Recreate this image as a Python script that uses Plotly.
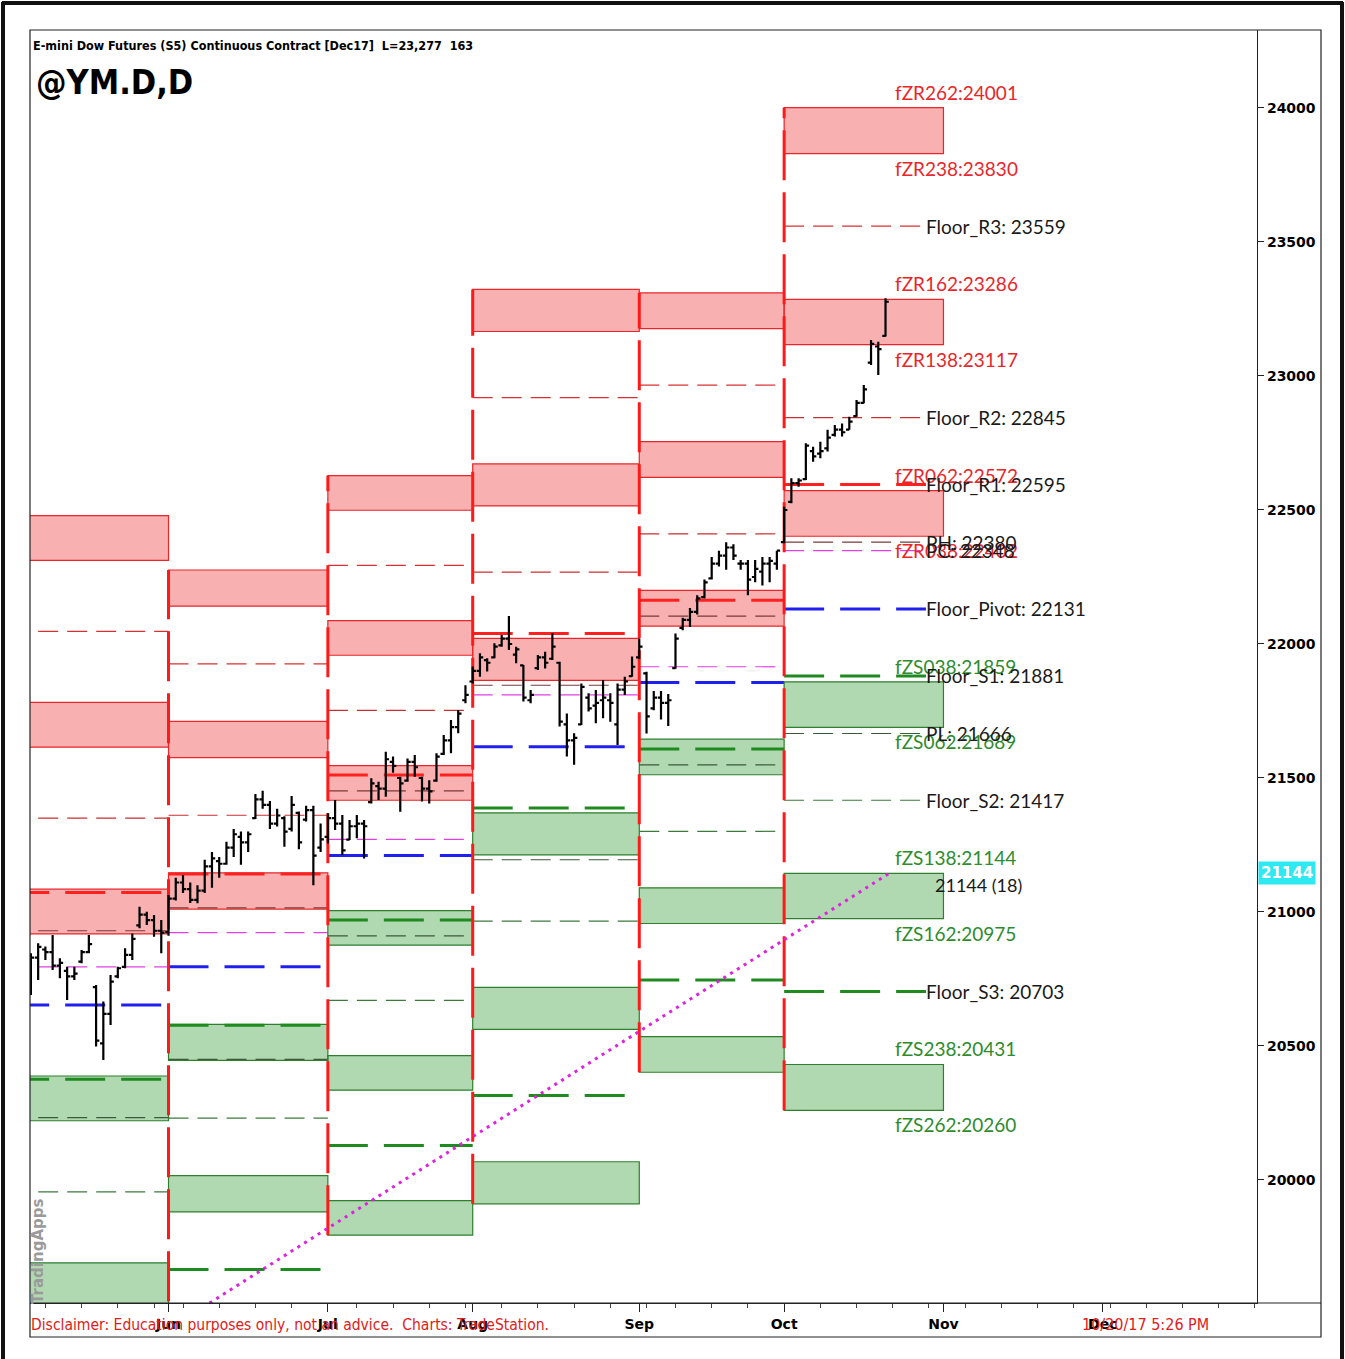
import plotly.graph_objects as go

# ---------------- daily bars (E-mini Dow, May-Oct 2017) ----------------
dates = [
    "2017-05-04", "2017-05-05", "2017-05-08", "2017-05-09", "2017-05-10", "2017-05-11", "2017-05-12",
    "2017-05-15", "2017-05-16", "2017-05-17", "2017-05-18", "2017-05-19", "2017-05-22", "2017-05-23",
    "2017-05-24", "2017-05-25", "2017-05-26", "2017-05-30", "2017-05-31",
    "2017-06-01", "2017-06-02", "2017-06-05", "2017-06-06", "2017-06-07", "2017-06-08", "2017-06-09",
    "2017-06-12", "2017-06-13", "2017-06-14", "2017-06-15", "2017-06-16", "2017-06-19", "2017-06-20",
    "2017-06-21", "2017-06-22", "2017-06-23", "2017-06-26", "2017-06-27", "2017-06-28", "2017-06-29",
    "2017-06-30",
    "2017-07-03", "2017-07-05", "2017-07-06", "2017-07-07", "2017-07-10", "2017-07-11", "2017-07-12",
    "2017-07-13", "2017-07-14", "2017-07-17", "2017-07-18", "2017-07-19", "2017-07-20", "2017-07-21",
    "2017-07-24", "2017-07-25", "2017-07-26", "2017-07-27", "2017-07-28", "2017-07-31",
    "2017-08-01", "2017-08-02", "2017-08-03", "2017-08-04", "2017-08-07", "2017-08-08", "2017-08-09",
    "2017-08-10", "2017-08-11", "2017-08-14", "2017-08-15", "2017-08-16", "2017-08-17", "2017-08-18",
    "2017-08-21", "2017-08-22", "2017-08-23", "2017-08-24", "2017-08-25", "2017-08-28", "2017-08-29",
    "2017-08-30", "2017-08-31",
    "2017-09-01", "2017-09-05", "2017-09-06", "2017-09-07", "2017-09-08", "2017-09-11", "2017-09-12",
    "2017-09-13", "2017-09-14", "2017-09-15", "2017-09-18", "2017-09-19", "2017-09-20", "2017-09-21",
    "2017-09-22", "2017-09-25", "2017-09-26", "2017-09-27", "2017-09-28", "2017-09-29",
    "2017-10-02", "2017-10-03", "2017-10-04", "2017-10-05", "2017-10-06", "2017-10-09", "2017-10-10",
    "2017-10-11", "2017-10-12", "2017-10-13", "2017-10-16", "2017-10-17", "2017-10-18", "2017-10-19",
    "2017-10-20",
]
opens = [
    20700, 20830, 20860, 20850, 20800, 20780, 20760, 20815, 20850, 20720, 20510, 20620, 20760, 20795,
    20840, 20950, 20990, 20970, 20930,
    20925, 21050, 21110, 21085, 21045, 21080, 21170, 21190, 21180, 21240, 21280, 21260, 21350, 21420,
    21400, 21330, 21350, 21310, 21370, 21345, 21380, 21240,
    21280, 21350, 21330, 21270, 21320, 21330, 21410, 21470, 21460, 21560, 21500, 21490, 21560, 21500,
    21460, 21490, 21590, 21640, 21690, 21790,
    21860, 21900, 21940, 21950, 21995, 22020, 21960, 21920, 21790, 21910, 21950, 21945, 21930, 21700,
    21640, 21700, 21800, 21770, 21790, 21790, 21700, 21830, 21880,
    21950, 21890, 21760, 21800, 21780, 21910, 22060, 22090, 22120, 22175, 22245, 22300, 22330, 22360,
    22300, 22300, 22250, 22270, 22300, 22300,
    22380, 22530, 22600, 22615, 22720, 22710, 22730, 22780, 22800, 22800, 22850, 22900, 23050, 23110,
    23150,
]
highs = [
    20846, 20883, 20871, 20914, 20827, 20796, 20796, 20858, 20914, 20728, 20666, 20765, 20796, 20865,
    20920, 21020, 21001, 20989, 20970,
    21063, 21128, 21138, 21110, 21100, 21195, 21224, 21205, 21262, 21310, 21300, 21300, 21440, 21452,
    21414, 21385, 21357, 21433, 21375, 21396, 21396, 21330,
    21368, 21418, 21362, 21343, 21362, 21343, 21499, 21486, 21598, 21580, 21505, 21573, 21586, 21505,
    21492, 21592, 21660, 21716, 21754, 21846,
    21916, 21965, 21947, 22003, 22034, 22104, 21990, 21922, 21828, 21959, 21971, 22040, 21934, 21741,
    21667, 21853, 21816, 21828, 21866, 21816, 21853, 21878, 21953,
    22020, 21896, 21825, 21825, 21813, 22039, 22098, 22134, 22182, 22241, 22325, 22348, 22380, 22372,
    22313, 22313, 22313, 22325, 22325, 22348,
    22512, 22618, 22618, 22749, 22736, 22755, 22799, 22817, 22823, 22848, 22910, 22966, 23134, 23128,
    23290,
]
lows = [
    20690, 20746, 20821, 20784, 20753, 20672, 20746, 20809, 20846, 20498, 20448, 20578, 20753, 20790,
    20821, 20939, 20951, 20908, 20846,
    20911, 21043, 21071, 21034, 21033, 21071, 21090, 21128, 21176, 21205, 21176, 21224, 21347, 21385,
    21310, 21319, 21243, 21300, 21234, 21338, 21100, 21224,
    21256, 21306, 21213, 21269, 21275, 21200, 21405, 21418, 21430, 21520, 21374, 21486, 21505, 21412,
    21405, 21486, 21586, 21592, 21667, 21779,
    21853, 21878, 21897, 21947, 21990, 21978, 21928, 21785, 21779, 21903, 21909, 21940, 21692, 21580,
    21549, 21698, 21748, 21704, 21723, 21710, 21623, 21810, 21878,
    21944, 21666, 21753, 21718, 21694, 21908, 22051, 22063, 22110, 22170, 22241, 22289, 22277, 22313,
    22277, 22182, 22230, 22218, 22230, 22277,
    22376, 22525, 22587, 22612, 22680, 22693, 22718, 22774, 22774, 22799, 22848, 22898, 23041, 23004,
    23147,
]
closes = [
    20830, 20870, 20850, 20800, 20810, 20760, 20770, 20850, 20880, 20520, 20620, 20740, 20790, 20840,
    20900, 20990, 20970, 20930, 20923,
    21050, 21110, 21085, 21045, 21080, 21170, 21200, 21180, 21240, 21290, 21260, 21290, 21420, 21400,
    21330, 21360, 21300, 21400, 21260, 21380, 21210, 21271,
    21350, 21330, 21230, 21320, 21330, 21320, 21480, 21460, 21570, 21545, 21480, 21560, 21540, 21460,
    21450, 21580, 21640, 21690, 21740, 21810,
    21900, 21950, 21930, 21990, 22020, 22000, 21980, 21800, 21810, 21950, 21930, 21990, 21710, 21640,
    21650, 21840, 21760, 21780, 21800, 21780, 21830, 21860, 21915,
    21990, 21730, 21800, 21780, 21790, 22020, 22090, 22120, 22170, 22230, 22300, 22330, 22360, 22330,
    22300, 22240, 22280, 22300, 22310, 22348,
    22500, 22600, 22610, 22740, 22700, 22720, 22770, 22800, 22790, 22830, 22900, 22950, 23120, 23100,
    23277,
]

# ---------------- monthly pivot / zone levels (one value per month segment) ----------------
seg_start = ["2017-05-01", "2017-06-01", "2017-07-03", "2017-08-01", "2017-09-01", "2017-10-02"]
seg_end = ["2017-06-01", "2017-07-03", "2017-08-01", "2017-09-01", "2017-10-02", "2017-11-01"]

ZR262 = [22479, 22276, 22628, 23323, 23310, 24001]
ZR238 = [22312, 22141, 22499, 23166, 23177, 23830]
R3 = [22047, 21926, 22293, 22919, 22966, 23559]
ZR162 = [21782, 21711, 22087, 22672, 22755, 23286]
ZR138 = [21615, 21576, 21958, 22515, 22622, 23117]
R2 = [21350, 21361, 21752, 22268, 22411, 22845]
R1 = [21073, 21142, 21511, 22039, 22163, 22595]
ZR062 = [21085, 21146, 21546, 22021, 22200, 22572]
ZR038 = [20918, 21011, 21417, 21864, 22067, 22402]
PH = [20930, 21015, 21452, 21846, 22104, 22380]
PC = [20795, 20923, 21271, 21810, 21915, 22348]
PIV = [20653, 20796, 21211, 21617, 21856, 22131]
S1 = [20376, 20577, 20970, 21388, 21608, 21881]
ZS038 = [20388, 20581, 21005, 21370, 21645, 21859]
ZS062 = [20221, 20446, 20876, 21213, 21512, 21689]
PL = [20233, 20450, 20911, 21195, 21549, 21666]
S2 = [19956, 20231, 20670, 20966, 21301, 21417]
ZS138 = [19691, 20016, 20464, 20719, 21090, 21144]
ZS162 = [19524, 19881, 20335, 20562, 20957, 20975]
S3 = [19259, 19666, 20129, 20315, 20746, 20703]
ZS238 = [18994, 19451, 19923, 20068, 20535, 20431]
ZS262 = [18827, 19316, 19794, 19911, 20402, 20260]

# trendline anchors
trend_x = ["2017-06-08 16:00", "2017-10-20 12:00"]
trend_y = [19541, 21144]
trend_bars = 18

# axis ticks
month_ticks = ["2017-06-01", "2017-07-03", "2017-08-01", "2017-09-01", "2017-10-02", "2017-11-01", "2017-12-01"]
month_labels = ["Jun", "Jul", "Aug", "Sep", "Oct", "Nov", "Dec"]
price_ticks = [20000, 20500, 21000, 21500, 22000, 22500, 23000, 23500, 24000]

# ---------------- styles ----------------
RED_FILL = "rgba(240,80,80,0.45)"
RED_EDGE = "#e8262b"
GRN_FILL = "rgba(60,160,60,0.40)"
GRN_EDGE = "#2f7f2f"
LONG = "40px,16px"
SHORT = "20px,9px"
LBL_FONT = "Lato, Open Sans, sans-serif"
NARROW = "DejaVu Sans Condensed, Liberation Sans Narrow, Arial Narrow, sans-serif"

shapes = []


def rect(x0, x1, y0, y1, fill, edge):
    shapes.append(dict(type="rect", xref="x", yref="y", x0=x0, x1=x1, y0=y0, y1=y1,
                       fillcolor=fill, line=dict(color=edge, width=1.2), layer="below"))


def hline(x0, x1, y, color, width, dash):
    shapes.append(dict(type="line", xref="x", yref="y", x0=x0, x1=x1, y0=y, y1=y,
                       line=dict(color=color, width=width, dash=dash), layer="below"))


LINE_END_LAST = "2017-10-27 14:00"

for i in range(len(seg_start)):
    xs = seg_start[i]
    xe = seg_end[i]
    le = LINE_END_LAST if i == len(seg_start) - 1 else xe
    # zones
    rect(xs, xe, ZR238[i], ZR262[i], RED_FILL, RED_EDGE)
    rect(xs, xe, ZR138[i], ZR162[i], RED_FILL, RED_EDGE)
    rect(xs, xe, ZR038[i], ZR062[i], RED_FILL, RED_EDGE)
    rect(xs, xe, ZS062[i], ZS038[i], GRN_FILL, GRN_EDGE)
    rect(xs, xe, ZS162[i], ZS138[i], GRN_FILL, GRN_EDGE)
    rect(xs, xe, ZS262[i], ZS238[i], GRN_FILL, GRN_EDGE)
    # thin floor lines
    hline(xs, le, R3[i], "#d83030", 1.2, SHORT)
    hline(xs, le, R2[i], "#c83030", 1.2, SHORT)
    hline(xs, le, PH[i], "#7a3a3a", 1.2, SHORT)
    hline(xs, le, PC[i], "#e040e0", 1.2, SHORT)
    hline(xs, le, PL[i], "#3a5a3a", 1.2, SHORT)
    hline(xs, le, S2[i], "#3c7a3c", 1.2, SHORT)
    # thick floor lines
    hline(xs, le, R1[i], "#ff2020", 3, LONG)
    hline(xs, le, PIV[i], "#2020ee", 3, LONG)
    hline(xs, le, S1[i], "#1f8a1f", 3, LONG)
    hline(xs, le, S3[i], "#1f8a1f", 3, LONG)
    # vertical month separator
    if i > 0:
        shapes.append(dict(type="line", xref="x", yref="y", x0=xs, x1=xs, y0=ZS262[i], y1=ZR262[i],
                           line=dict(color="#ff1a1a", width=3, dash="50px,12px"), layer="below"))

# frame shapes (paper coordinates)
PW, PH_PX = 1227.0, 1273.0
fx = lambda px: (px - 30) / PW
fy = lambda py: 1 - (py - 30) / PH_PX
shapes.append(dict(type="rect", xref="paper", yref="paper", x0=fx(30), x1=fx(1321), y0=fy(1337), y1=fy(30),
                   line=dict(color="#222", width=1.2), fillcolor="rgba(0,0,0,0)"))
shapes.append(dict(type="line", xref="paper", yref="paper", x0=fx(30), x1=fx(1321), y0=0, y1=0,
                   line=dict(color="#222", width=1.2)))
for (a, b, c, d) in [(3, 2, 3, 1359), (2, 3, 1343, 3), (1342, 2, 1342, 1359)]:
    shapes.append(dict(type="line", xref="paper", yref="paper", x0=fx(a), y0=fy(b), x1=fx(c), y1=fy(d),
                       line=dict(color="#111", width=4)))

fig = go.Figure()

fig.add_trace(go.Ohlc(
    x=dates, open=opens, high=highs, low=lows, close=closes,
    increasing=dict(line=dict(color="black", width=2.2)),
    decreasing=dict(line=dict(color="black", width=2.2)),
    tickwidth=0.45, hoverinfo="skip", showlegend=False,
))

fig.add_trace(go.Scatter(
    x=trend_x, y=trend_y, mode="lines",
    line=dict(color="#e020e0", width=3, dash="3px,5px"),
    hoverinfo="skip", showlegend=False,
))

annotations = []
ZONE_X = "2017-10-23 12:00"
FLOOR_X = LINE_END_LAST
last = len(seg_start) - 1

zone_specs = [
    ("fZR262", ZR262, "above", "#e8262b"), ("fZR238", ZR238, "below", "#e8262b"),
    ("fZR162", ZR162, "above", "#e8262b"), ("fZR138", ZR138, "below", "#e8262b"),
    ("fZR062", ZR062, "above", "#e8262b"), ("fZR038", ZR038, "below", "#e8262b"),
    ("fZS038", ZS038, "above", "#2e8b2e"), ("fZS062", ZS062, "below", "#2e8b2e"),
    ("fZS138", ZS138, "above", "#2e8b2e"), ("fZS162", ZS162, "below", "#2e8b2e"),
    ("fZS238", ZS238, "above", "#2e8b2e"), ("fZS262", ZS262, "below", "#2e8b2e"),
]
for name, arr, pos, col in zone_specs:
    annotations.append(dict(
        x=ZONE_X, y=arr[last], xref="x", yref="y", text=f"{name}:{arr[last]}", showarrow=False,
        xanchor="left", yanchor="bottom" if pos == "above" else "top",
        yshift=2 if pos == "above" else -1, xshift=-3,
        font=dict(family=LBL_FONT, size=19, color=col)))

floor_specs = [
    ("Floor_R3", R3), ("Floor_R2", R2), ("Floor_R1", R1), ("PH", PH), ("PC", PC),
    ("Floor_Pivot", PIV), ("Floor_S1", S1), ("PL", PL), ("Floor_S2", S2), ("Floor_S3", S3),
]
for name, arr in floor_specs:
    annotations.append(dict(
        x=FLOOR_X, y=arr[last], xref="x", yref="y", text=f"{name}: {arr[last]}", showarrow=False,
        xanchor="left", yanchor="middle", xshift=-2,
        font=dict(family=LBL_FONT, size=19, color="#1a1a1a")))

annotations.append(dict(
    x="2017-10-30 14:00", y=trend_y[-1], xref="x", yref="y", yshift=-12,
    text=f"{trend_y[-1]} ({trend_bars})", showarrow=False, xanchor="left", yanchor="middle",
    font=dict(family=LBL_FONT, size=18, color="#1a1a1a")))

# cyan price tag on the axis
annotations.append(dict(
    x=1, y=trend_y[-1], xref="paper", yref="y", text=f"<b>{trend_y[-1]}</b>", showarrow=False,
    xanchor="left", yanchor="middle", xshift=1, bgcolor="#2ee8f2", borderpad=2,
    font=dict(family="DejaVu Sans", size=15, color="white")))

# titles
annotations.append(dict(
    x=fx(31), y=fy(46), xref="paper", yref="paper",
    text="<b>E-mini Dow Futures (S5) Continuous Contract [Dec17]  L=23,277  163</b>",
    showarrow=False, xanchor="left", yanchor="middle",
    font=dict(family=NARROW, size=12.5, color="black")))
annotations.append(dict(
    x=fx(34), y=fy(82), xref="paper", yref="paper", text="<b>@YM.D,D</b>",
    showarrow=False, xanchor="left", yanchor="middle",
    font=dict(family=NARROW, size=34, color="black")))

# footer
annotations.append(dict(
    x=fx(29), y=fy(1325), xref="paper", yref="paper",
    text="Disclaimer: Education purposes only, not an advice.  Charts: TradeStation.",
    showarrow=False, xanchor="left", yanchor="middle",
    font=dict(family=NARROW, size=15.5, color="#e02020")))
annotations.append(dict(
    x=fx(1080), y=fy(1325), xref="paper", yref="paper", text="10/20/17 5:26 PM",
    showarrow=False, xanchor="left", yanchor="middle",
    font=dict(family=NARROW, size=16, color="#e02020")))

# watermark
annotations.append(dict(
    x=fx(38), y=fy(1252), xref="paper", yref="paper", text="<b>TradingApps</b>",
    showarrow=False, textangle=-90, xanchor="center", yanchor="middle",
    font=dict(family="DejaVu Sans", size=15, color="#9a9a9a")))

fig.update_layout(
    width=1345, height=1359,
    margin=dict(l=30, r=88, t=30, b=56),
    plot_bgcolor="white", paper_bgcolor="white",
    showlegend=False,
    shapes=shapes,
    annotations=annotations,
    xaxis=dict(
        type="date",
        range=["2017-05-03 21:00", "2018-01-01 07:00"],
        rangebreaks=[dict(bounds=["sat", "mon"]),
                     dict(values=["2017-05-29", "2017-07-04", "2017-09-04"])],
        rangeslider=dict(visible=False),
        tickmode="array", tickvals=month_ticks,
        ticktext=[f"<b>{m}</b>" for m in month_labels],
        ticks="outside", ticklen=8, tickcolor="#222",
        minor=dict(ticks="outside", ticklen=4, dtick=7 * 24 * 3600 * 1000, tick0="2017-05-01",
                   tickcolor="#444"),
        showline=True, linecolor="#222", linewidth=1.2,
        showgrid=False, zeroline=False,
        tickfont=dict(family="DejaVu Sans", size=14, color="black"),
    ),
    yaxis=dict(
        side="right",
        range=[19541, 24291],
        tickmode="array", tickvals=price_ticks,
        ticktext=[f"<b>{v}</b>" for v in price_ticks],
        ticks="outside", ticklen=6, tickcolor="#222",
        showline=True, linecolor="#222", linewidth=1.2,
        showgrid=False, zeroline=False,
        tickfont=dict(family="DejaVu Sans", size=14, color="black"),
    ),
)

fig.write_html("out.html", config={"displayModeBar": False},
               post_script="document.body.style.margin='0';")
